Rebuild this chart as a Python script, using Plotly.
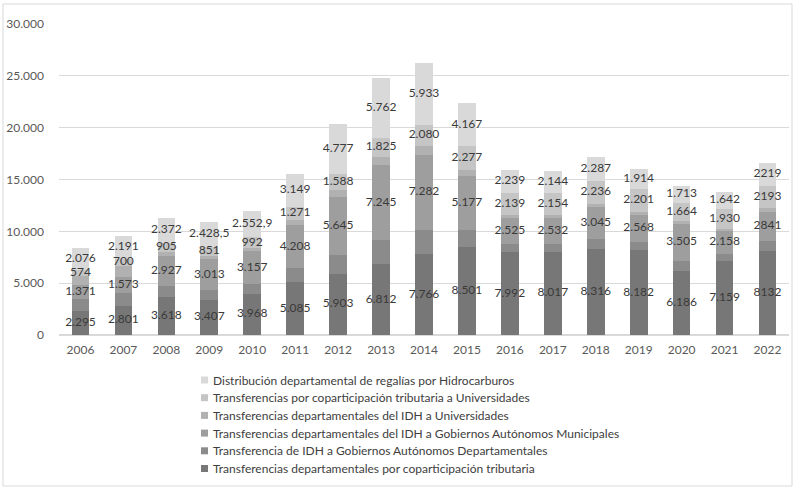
import plotly.graph_objects as go

years = [str(y) for y in range(2006, 2023)]

# Series, from the bottom of each stacked bar to the top
coparticipacion = [2295, 2801, 3618, 3407, 3968, 5085, 5903, 6812, 7766, 8501,
                   7992, 8017, 8316, 8182, 6186, 7159, 8132]
idh_gad = [1150, 1260, 1068, 917, 962, 1332, 1796, 2320, 2344, 1662,
           766, 753, 941, 837, 998, 700, 925]
idh_gam = [1371, 1573, 2927, 3013, 3157, 4208, 5645, 7245, 7282, 5177,
           2525, 2532, 3045, 2568, 3505, 2158, 2841]
idh_univ = [905, 1033, 377, 323, 340, 470, 634, 820, 828, 587,
            270, 266, 332, 296, 352, 247, 326]
copart_univ = [574, 700, 905, 851, 992, 1271, 1588, 1825, 2080, 2277,
               2139, 2154, 2236, 2201, 1664, 1930, 2193]
regalias = [2076, 2191, 2372, 2428.5, 2552.9, 3149, 4777, 5762, 5933, 4167,
            2239, 2144, 2287, 1914, 1713, 1642, 2219]

names = [
    "Transferencias departamentales por coparticipación tributaria",
    "Transferencia de IDH a Gobiernos Autónomos Departamentales",
    "Transferencias departamentales del IDH a Gobiernos Autónomos Municipales",
    "Transferencias departamentales del IDH a Universidades",
    "Transferencias por coparticipación tributaria a Universidades",
    "Distribución departamental de regalías por Hidrocarburos",
]
series = [coparticipacion, idh_gad, idh_gam, idh_univ, copart_univ, regalias]
colors = ["#777777", "#8b8b8b", "#9e9e9e", "#b1b1b1", "#c5c5c5", "#d9d9d9"]
labelled = [True, False, True, False, True, True]
# years whose labels are written without a thousands separator
plain_years = ["2022"]

y_ticks = [0, 5000, 10000, 15000, 20000, 25000, 30000]


def fmt(v, year):
    if year in plain_years:
        return f"{v:g}"
    whole = int(v)
    s = f"{whole:,}".replace(",", ".")
    if v != whole:
        s += "," + f"{v:.1f}".split(".")[1]
    return s


FONT = "Lato"
fig = go.Figure()
for vals, name, col in zip(series, names, colors):
    fig.add_trace(go.Bar(
        x=years, y=vals, name=name, marker=dict(color=col, line=dict(width=0)),
        showlegend=False, hoverinfo="skip",
    ))

# value labels centred in their segments, drawn above all the bars
base = [0.0] * len(years)
for vals, lab in zip(series, labelled):
    if lab:
        fig.add_trace(go.Scatter(
            x=years, y=[b + v / 2 for b, v in zip(base, vals)], mode="text",
            text=[fmt(v, yr) for v, yr in zip(vals, years)],
            textposition="middle center",
            textfont=dict(family=FONT, size=12, color="#3a3a3a"),
            showlegend=False, hoverinfo="skip", cliponaxis=False,
        ))
    base = [b + v for b, v in zip(base, vals)]

L, R, T, B = 59, 6, 24, 154
W, H = 795, 489
pw, ph = W - L - R, H - T - B


def px(x):
    return (x - L) / pw


def py(y):
    return (H - B - y) / ph


shapes = [dict(type="rect", xref="paper", yref="paper",
               x0=px(3), x1=px(792), y0=py(486), y1=py(4),
               line=dict(color="#d9d9d9", width=1), fillcolor="rgba(0,0,0,0)",
               layer="below")]
annotations = []
row0, step = 380, 17.7
for i, (name, col) in enumerate(zip(names[::-1], colors[::-1])):
    yc = row0 + i * step
    shapes.append(dict(type="rect", xref="paper", yref="paper",
                       x0=px(201), x1=px(208), y0=py(yc + 3.5), y1=py(yc - 3.5),
                       line=dict(width=0), fillcolor=col))
    annotations.append(dict(xref="paper", yref="paper", x=px(211), y=py(yc),
                            text=name, showarrow=False, xanchor="left",
                            yanchor="middle",
                            font=dict(family=FONT, size=12, color="#404040")))

fig.update_layout(
    barmode="stack", bargap=0.59,
    width=W, height=H, margin=dict(l=L, r=R, t=T, b=B),
    paper_bgcolor="white", plot_bgcolor="white",
    separators=",.",
    font=dict(family=FONT, size=12, color="#595959"),
    shapes=shapes, annotations=annotations,
    xaxis=dict(range=[-0.5, len(years) - 0.5], showgrid=False, showline=False,
               ticks="", ticklabelstandoff=6,
               tickfont=dict(family=FONT, size=12, color="#595959")),
    yaxis=dict(range=[0, 30000], tickvals=y_ticks, tickformat=",",
               showgrid=True, gridcolor="#d9d9d9", gridwidth=1,
               zeroline=True, zerolinecolor="#d9d9d9", showline=False,
               ticks="", ticklabelstandoff=14,
               tickfont=dict(family=FONT, size=12, color="#595959")),
)

fig.write_html("out.html")
